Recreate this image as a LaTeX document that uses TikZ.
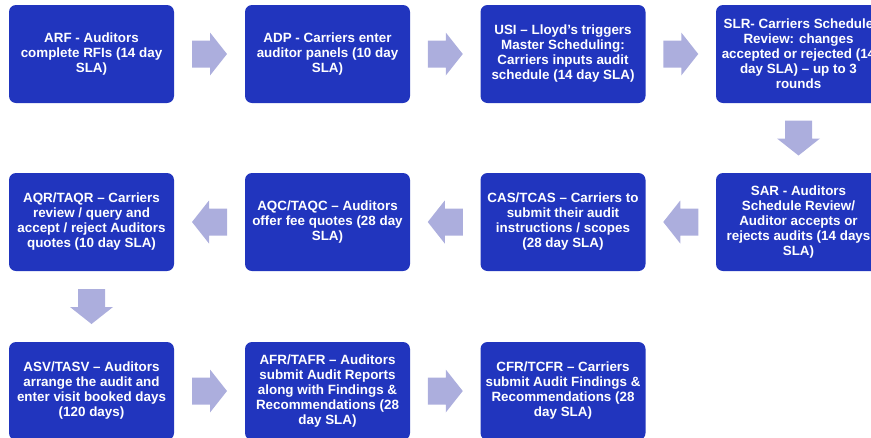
\documentclass[tikz,border=0pt]{standalone}
\usepackage{fontspec}
\setmainfont{Liberation Sans}
\usetikzlibrary{calc}
\definecolor{boxcol}{RGB}{33,53,190}
\definecolor{arrcol}{RGB}{172,174,221}
\begin{document}
\begin{tikzpicture}[x=1pt,y=1pt,
  stepbox/.style={rectangle, rounded corners=7pt, fill=boxcol, draw=none,
    minimum width=165pt, minimum height=98pt, inner sep=0pt, text=white,
    align=center, font=\fontsize{13.4}{15}\selectfont\bfseries},
  barrow/.pic={\fill[arrcol] (-17.5,-13.5) -- (0.5,-13.5) -- (0.5,-21.5) -- (17.5,0)
      -- (0.5,21.5) -- (0.5,13.5) -- (-17.5,13.5) -- cycle;}]
\useasboundingbox (0,0) rectangle (871,-437);
\clip (0,0) rectangle (871,-437);
% row 1
\node[stepbox] (arf) at (91.5,-54) {ARF - Auditors\\complete RFIs (14 day\\SLA)};
\node[stepbox] (adp) at (327.5,-54) {ADP - Carriers enter\\auditor panels (10 day\\SLA)};
\node[stepbox] (usi) at (563,-54) {USI – Lloyd’s triggers\\Master Scheduling:\\Carriers inputs audit\\schedule (14 day SLA)};
\node[stepbox] (slr) at (798.5,-54) {SLR- Carriers Schedule\\Review: changes\\accepted or rejected (14\\day SLA) – up to 3\\rounds};
% row 2
\node[stepbox] (sar) at (798.5,-222) {SAR - Auditors\\Schedule Review/\\Auditor accepts or\\rejects audits (14 days\\SLA)};
\node[stepbox] (cas) at (563,-222) {CAS/TCAS – Carriers to\\submit their audit\\instructions / scopes\\(28 day SLA)};
\node[stepbox] (aqc) at (327.5,-222) {AQC/TAQC – Auditors\\offer fee quotes (28 day\\SLA)};
\node[stepbox] (aqr) at (91.5,-222) {AQR/TAQR – Carriers\\review / query and\\accept / reject Auditors\\quotes (10 day SLA)};
% row 3
\node[stepbox] (asv) at (91.5,-391) {ASV/TASV – Auditors\\arrange the audit and\\enter visit booked days\\(120 days)};
\node[stepbox] (afr) at (327.5,-391) {AFR/TAFR – Auditors\\submit Audit Reports\\along with Findings \&\\Recommendations (28\\day SLA)};
\node[stepbox] (cfr) at (563,-391) {CFR/TCFR – Carriers\\submit Audit Findings \&\\Recommendations (28\\day SLA)};
% arrows
\pic at ($(arf.east)!0.5!(adp.west)$) {barrow};
\pic at ($(adp.east)!0.5!(usi.west)$) {barrow};
\pic at ($(usi.east)!0.5!(slr.west)$) {barrow};
\pic[rotate=-90] at ($(slr.south)!0.5!(sar.north)$) {barrow};
\pic[rotate=180] at ($(sar.west)!0.5!(cas.east)$) {barrow};
\pic[rotate=180] at ($(cas.west)!0.5!(aqc.east)$) {barrow};
\pic[rotate=180] at ($(aqc.west)!0.5!(aqr.east)$) {barrow};
\pic[rotate=-90] at ($(aqr.south)!0.5!(asv.north)$) {barrow};
\pic at ($(asv.east)!0.5!(afr.west)$) {barrow};
\pic at ($(afr.east)!0.5!(cfr.west)$) {barrow};
\end{tikzpicture}
\end{document}
